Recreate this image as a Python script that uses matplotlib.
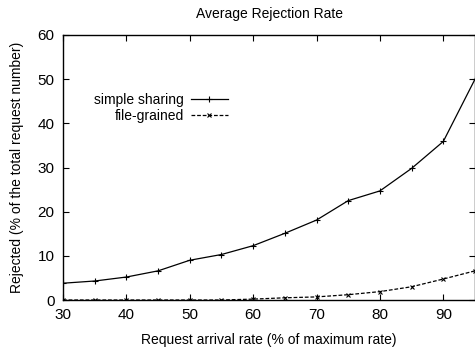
import matplotlib
matplotlib.use("Agg")
import matplotlib.pyplot as plt

plt.rcParams['font.family'] = ['Liberation Sans', 'DejaVu Sans']
plt.rcParams['font.size'] = 10

# request arrival rate (% of max rate)
rate = [30, 35, 40, 45, 50, 55, 60, 65, 70, 75, 80, 85, 90, 95]
simple_sharing = [3.8, 4.3, 5.2, 6.6, 9.0, 10.3, 12.3, 15.1, 18.1, 22.5, 24.7, 29.8, 35.9, 50.0]
file_grained = [0.0, 0.0, 0.0, 0.0, 0.0, 0.0, 0.2, 0.5, 0.7, 1.2, 1.9, 3.0, 4.75, 6.6]

xticks = [30, 40, 50, 60, 70, 80, 90]
yticks = [0, 10, 20, 30, 40, 50, 60]

fig = plt.figure(figsize=(4.75, 3.47), dpi=100)
ax = fig.add_axes([63/475, 1 - 300/347, 412/475, 265/347])

ax.plot(rate, simple_sharing, color='black', lw=0.9, marker='+', ms=4,
        mew=0.8, label='simple sharing')
ax.plot(rate, file_grained, color='black', lw=0.9, ls=(0, (3, 1.5)),
        marker='x', ms=3.5, mew=0.8, label='file-grained')

ax.set_xlim(30, 95)
ax.set_ylim(0, 60)
ax.set_xticks(xticks)
ax.set_yticks(yticks)
ax.tick_params(direction='in', top=True, right=True, length=4, width=0.8,
               labelsize=11, pad=6)
for s in ax.spines.values():
    s.set_linewidth(1.0)

ax.set_title('Average Rejection Rate', fontsize=10, pad=12)
ax.set_xlabel('Request arrival rate (% of maximum rate)', fontsize=10, labelpad=8)
ax.set_ylabel('Rejected (% of the total request number)', fontsize=10, labelpad=10)

ax.legend(loc='center right', bbox_to_anchor=((228 - 63) / 412, (300 - 108) / 265),
          frameon=False, markerfirst=False, numpoints=1, handlelength=2.7,
          handletextpad=0.5, borderpad=0, borderaxespad=0, labelspacing=0.15,
          fontsize=10)

fig.savefig('out.png', dpi=100)
